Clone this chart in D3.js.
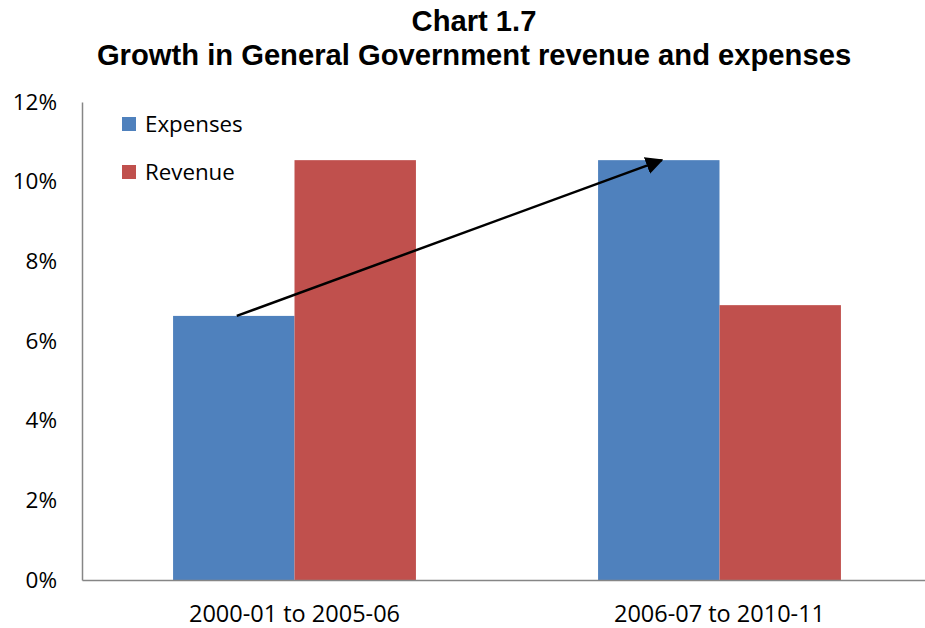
<!DOCTYPE html>
<html><head><meta charset="utf-8">
<script src="https://cdn.jsdelivr.net/npm/d3@7"></script>
<style>body{margin:0;background:#fff}svg{display:block}</style>
</head><body>
<svg id="c" width="925" height="628"></svg>
<script>
const categories = ["2000-01 to 2005-06", "2006-07 to 2010-11"];
const seriesNames = ["Expenses", "Revenue"];
const expenses = [6.63, 10.54];
const revenue = [10.54, 6.9];
const yTicks = [0, 2, 4, 6, 8, 10, 12];
const colors = ["#4F81BD", "#C0504D"];
const titleLines = ["Chart 1.7", "Growth in General Government revenue and expenses"];

const svg = d3.select("#c");
const pLeft = 82, pRight = 932, pTop = 102, pBottom = 580;
const y = d3.scaleLinear().domain([0, 12]).range([pBottom, pTop]);
const x0 = d3.scaleBand().domain(categories).range([pLeft, pRight]).padding(0);
const groupW = x0.step() / 3.5 * 2;
const x1 = d3.scaleBand().domain(seriesNames).range([0, groupW]).padding(0);
const data = categories.map((c, i) => ({cat: c, vals: [expenses[i], revenue[i]]}));
const lblFont = "'Open Sans', Calibri, sans-serif";

// title
svg.selectAll("text.title").data(titleLines).enter().append("text")
  .attr("class", "title")
  .attr("x", 474).attr("y", (d, i) => 31 + i * 34)
  .attr("text-anchor", "middle")
  .style("font-family", "'Liberation Sans', Arial, sans-serif")
  .style("font-weight", "bold").style("font-size", "29.2px")
  .text(d => d);

// bars
const g = svg.selectAll("g.grp").data(data).enter().append("g")
  .attr("class", "grp")
  .attr("transform", d => `translate(${x0(d.cat) + (x0.bandwidth() - groupW) / 2},0)`);
g.selectAll("rect").data(d => d.vals.map((v, j) => ({s: seriesNames[j], v, j}))).enter().append("rect")
  .attr("x", d => x1(d.s)).attr("width", x1.bandwidth())
  .attr("y", d => y(d.v)).attr("height", d => pBottom - y(d.v))
  .attr("fill", d => colors[d.j]);

// y axis
const yAxis = d3.axisLeft(y).tickValues(yTicks).tickFormat(d => d + "%").tickSize(0).tickPadding(25);
const ya = svg.append("g").attr("transform", `translate(${pLeft},0)`).call(yAxis);
ya.select(".domain").attr("stroke", "#868686").attr("stroke-width", 1.5);
ya.selectAll("text").style("font-family", lblFont).style("font-size", "22.5px").attr("fill", "#000");

// x axis
const xAxis = d3.axisBottom(x0).tickSize(0).tickPadding(25);
const xa = svg.append("g").attr("transform", `translate(0,${pBottom})`).call(xAxis);
xa.select(".domain").attr("stroke", "#868686").attr("stroke-width", 1.5);
xa.selectAll("text").style("font-family", lblFont).style("font-size", "23.5px").attr("fill", "#000");

// arrow
svg.append("defs").append("marker").attr("id", "ah")
  .attr("viewBox", "0 0 10 10").attr("refX", 9).attr("refY", 5)
  .attr("markerWidth", 7).attr("markerHeight", 7).attr("orient", "auto")
  .append("path").attr("d", "M0,0 L10,5 L0,10 Z").attr("fill", "#000");
const bx = (i) => x0(categories[i]) + (x0.bandwidth() - groupW) / 2 + x1("Expenses") + x1.bandwidth() / 2;
svg.append("line")
  .attr("x1", bx(0) + 3).attr("y1", y(expenses[0]))
  .attr("x2", bx(1) + 3).attr("y2", y(expenses[1]))
  .attr("stroke", "#000").attr("stroke-width", 2.5).attr("marker-end", "url(#ah)");

// legend
const lg = svg.selectAll("g.lg").data(seriesNames).enter().append("g")
  .attr("class", "lg")
  .attr("transform", (d, i) => `translate(122,${117 + i * 48})`);
lg.append("rect").attr("width", 14).attr("height", 14).attr("fill", (d, i) => colors[i]);
lg.append("text").attr("x", 23).attr("y", 15)
  .style("font-family", lblFont).style("font-size", "22.3px")
  .text(d => d);
</script>
</body></html>
